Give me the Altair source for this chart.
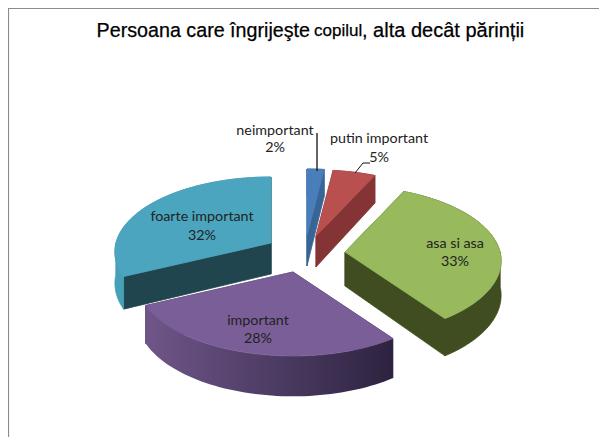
import math
import altair as alt
import pandas as pd

# ---- chart values ----
categories = ["neimportant", "putin important", "asa si asa", "important", "foarte important"]
shares = [2, 5, 33, 28, 32]
top_colors = ["#4A7EBB", "#B8504F", "#98B95C", "#7A5E97", "#4BA5BE"]
cut_colors = ["#376596", "#843434", "#3F4D20", "#4F3D66", "#20454F"]
wall_colors = ["#376596", "#843434", "#3F4D20", None, "#46A0B8"]
draw_order = [0, 1, 4, 2, 3]

# ---- 3-D pie projection (layout, in page pixels) ----
W, H = 591, 429
MARGIN = 8
apexes = [(307, 235), (316, 236), (345, 252), (293, 272), (271, 243)]
depths = [31, 31, 34, 36, 31]
RX, RY = 155, 75
PERSP = 0.12


def ground(pct):
    a = 2 * math.pi * pct / 100
    return math.sin(a), -math.cos(a)


def project(u, v, apex, drop=0.0):
    s = 1 + PERSP * v
    return apex[0] + RX * u * s - MARGIN, apex[1] + RY * v * s + drop * s - MARGIN


rows_back, rows_front, rows_grad = [], [], []
face_no = 0


def add_face(target, points, color):
    global face_no
    face_no += 1
    for k, (x, y) in enumerate(points + points[:1]):
        target.append({"face": f"f{face_no:04d}", "k": k, "x": x, "y": y, "c": color})


def arc_points(p0, p1):
    n = max(2, int((p1 - p0) * 2))
    return [ground(p0 + (p1 - p0) * j / n) for j in range(n + 1)]


starts = [sum(shares[:i]) for i in range(len(shares))]
for i in draw_order:
    a0, a1 = starts[i], starts[i] + shares[i]
    apex = apexes[i]
    d = depths[i]
    arc = arc_points(a0, a1)
    # the two cut faces
    for u, v in (arc[0], arc[-1]):
        add_face(rows_back, [project(0, 0, apex), project(u, v, apex), project(u, v, apex, d), project(0, 0, apex, d)],
                 cut_colors[i])
    wall = [project(u, v, apex) for u, v in arc] + [project(u, v, apex, d) for u, v in reversed(arc)]
    top = [project(0, 0, apex)] + [project(u, v, apex) for u, v in arc]
    if wall_colors[i] is None:
        # shaded wall: one face, filled with a gradient
        add_face(rows_grad, wall, "grad")
        add_face(rows_front, top, top_colors[i])
    else:
        # flat wall, split where it turns at the silhouette so it never folds over itself
        cuts = [a0] + [c for c in (25, 75) if a0 < c < a1] + [a1]
        for p0, p1 in zip(cuts, cuts[1:]):
            seg = arc_points(p0, p1)
            add_face(rows_back, [project(u, v, apex) for u, v in seg] +
                     [project(u, v, apex, d) for u, v in reversed(seg)], wall_colors[i])
        add_face(rows_back, top, top_colors[i])

xs_scale = alt.Scale(domain=[0, W], range=[0, W])
ys_scale = alt.Scale(domain=[0, H], range=[0, H])
X = lambda f="x": alt.X(f"{f}:Q", scale=xs_scale, axis=None)
Y = lambda f="y": alt.Y(f"{f}:Q", scale=ys_scale, axis=None)


def faces(rows):
    return alt.Chart(pd.DataFrame(rows)).mark_line(strokeWidth=0.8, interpolate="linear", clip=False).encode(
        x=X(), y=Y(),
        detail="face:N",
        order="k:Q",
        stroke=alt.Stroke("c:N", scale=None),
        fill=alt.Fill("c:N", scale=None),
    )


pie_back = faces(rows_back)
pie_front = faces(rows_front)
pie_grad = alt.Chart(pd.DataFrame(rows_grad)).mark_line(
    strokeWidth=0,
    interpolate="linear",
    fill=alt.LinearGradient(
        gradient="linear", x1=0, x2=1, y1=0, y2=0,
        stops=[alt.GradientStop(color="#6F5689", offset=0), alt.GradientStop(color="#2D2340", offset=1)],
    ),
).encode(x=X(), y=Y(), detail="face:N", order="k:Q")

# labels: (text, x, y) in page pixels less the margin
label_rows = []
lab_pos = [(275, 131), (379, 139), (455, 244), (258, 321), (202, 217)]
lab_gap = [17, 19, 18, 18, 19]
for i, name in enumerate(categories):
    x, y = lab_pos[i]
    label_rows.append({"t": name, "x": x - 8, "y": y - 8})
    label_rows.append({"t": f"{shares[i]}%", "x": x - 8, "y": y - 8 + lab_gap[i]})
labels = alt.Chart(pd.DataFrame(label_rows)).mark_text(
    font="Lato", fontSize=14.3, color="#222222", align="center", baseline="middle"
).encode(x=X(), y=Y(), text="t:N")

# leader lines
leader_a = alt.Chart(pd.DataFrame({"x": [309, 309], "y": [125, 163]})).mark_line(color="#111111", strokeWidth=1.3).encode(x=X(), y=Y())
leader_b = alt.Chart(pd.DataFrame({"x": [347, 355, 362], "y": [165, 155, 155], "k": [0, 1, 2]})).mark_line(color="#111111", strokeWidth=1).encode(x=X(), y=Y(), order="k:Q")

# title in three runs
title_rows = [
    ("Persoana care îngrijeşte", 302, 19.7, "right"),
    ("copilul", 306, 17, "left"),
    (", alta decât părinții", 354, 20, "left"),
]
title_layers = [
    alt.Chart(pd.DataFrame({"t": [t], "x": [x], "y": [23]})).mark_text(
        font="Liberation Sans", fontSize=fs, align=al, baseline="middle", color="#000000", stroke="#000000", strokeWidth=0.25
    ).encode(x=X(), y=Y(), text="t:N")
    for t, x, fs, al in title_rows
]

# frame
frame_top = alt.Chart(pd.DataFrame({"x": [0, W], "y": [0.5, 0.5]})).mark_line(color="#8c8c8c", strokeWidth=1.2).encode(x=X(), y=Y())
frame_left = alt.Chart(pd.DataFrame({"x": [0.5, 0.5], "y": [0, H]})).mark_line(color="#8c8c8c", strokeWidth=1.2).encode(x=X(), y=Y())

chart = alt.layer(frame_top, frame_left, pie_back, pie_grad, pie_front, leader_a, leader_b, labels, *title_layers).properties(
    width=W, height=H, padding=0, autosize=alt.AutoSizeParams(type="none"),
    background="white",
).configure_view(stroke=None)

chart.save("out.html", embed_options={"renderer": "svg", "actions": False})
